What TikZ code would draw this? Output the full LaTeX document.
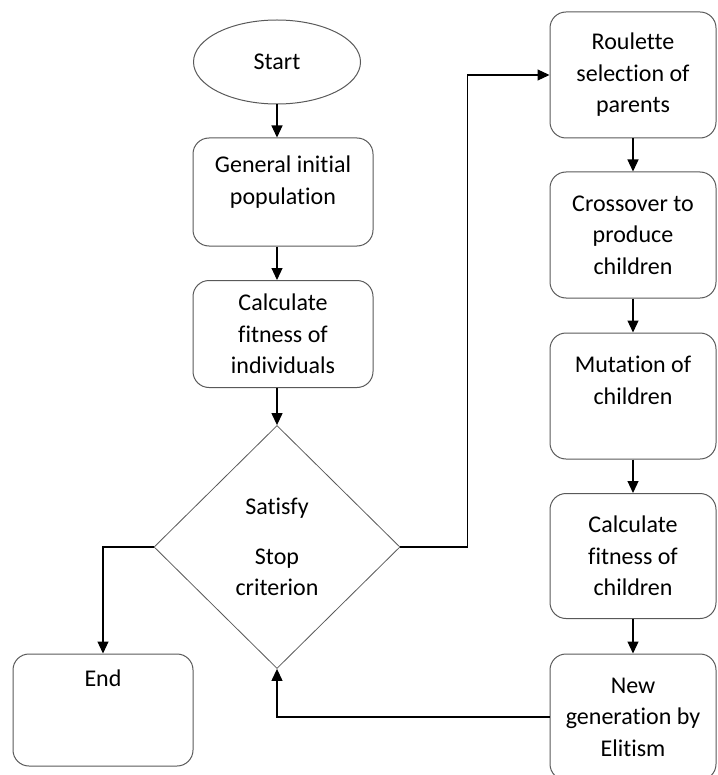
\documentclass[tikz,border=0pt]{standalone}
\usepackage{fontspec}
\setmainfont{Carlito}[Ligatures=NoCommon]
\usetikzlibrary{arrows.meta,positioning,shapes.geometric}

\begin{document}
\begin{tikzpicture}[x=0.5pt, y=-0.5pt,
  every node/.style={font=\fontsize{12}{15.75}\selectfont, align=center, inner sep=0pt},
  stepbox/.style={draw=black!65, line width=0.5pt, rounded corners=8pt, minimum width=90pt, minimum height=54pt},
  colbox/.style={stepbox, minimum width=83pt, minimum height=63pt},
  startend/.style={ellipse, draw=black!65, line width=0.5pt, minimum width=83.5pt, minimum height=42pt},
  decision/.style={diamond, draw=black!65, line width=0.4pt, minimum width=123pt, minimum height=121.5pt},
  arr/.style={-{Triangle[length=6pt,width=5.5pt]}, line width=0.6pt}]
\useasboundingbox (0,0) rectangle (717,775);

% left column
\node[startend] (start) at (277,62) {Start};
\node[stepbox] (init) at (283,192) {General initial\\population\\[-4pt]\mbox{}};
\node[stepbox, minimum height=53.5pt] (fitind) at (283,334) {Calculate\\fitness of\\individuals};
\node[decision] (dec) at (277,547) {Satisfy\\[9pt]Stop\\criterion};
\node[stepbox, minimum height=56pt] (endbox) at (103,710) {End\\\mbox{}\\\mbox{}};

% right column
\node[colbox] (sel) at (633,75) {Roulette\\selection of\\parents};
\node[colbox] (cross) at (633,235) {Crossover to\\produce\\children};
\node[colbox] (mut) at (633,396) {Mutation of\\children\\\mbox{}};
\node[colbox, minimum height=62.5pt] (fitch) at (633,556) {Calculate\\fitness of\\children};
\node[colbox] (newgen) at (633,717) {New\\generation by\\Elitism};

\draw[arr] (start.south) -- (start |- init.north);
\draw[arr] (init.south -| start) -- (fitind.north -| start);
\draw[arr] (fitind.south -| dec) -- (dec.north);
\draw[arr] (dec.west) -| (endbox.north);
\draw[arr] (dec.east) -- ++(67,0) |- (sel.west);
\foreach \a/\b in {sel/cross,cross/mut,mut/fitch,fitch/newgen} \draw[arr] (\a) -- (\b);
\draw[arr] (newgen.west) -| (dec.south);
\end{tikzpicture}
\end{document}
